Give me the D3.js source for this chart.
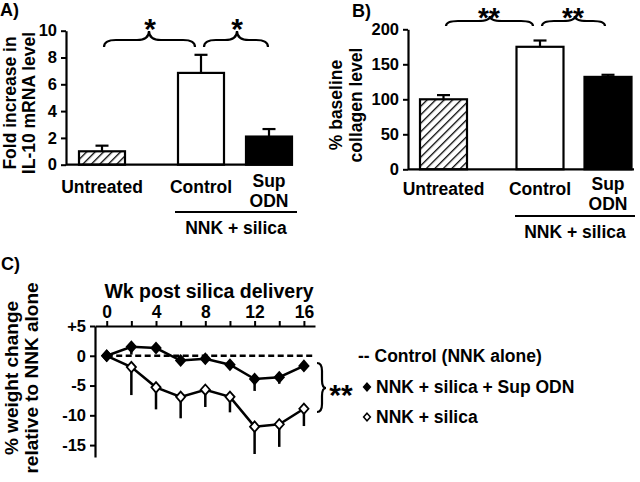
<!DOCTYPE html>
<html><head><meta charset="utf-8">
<script src="https://cdn.jsdelivr.net/npm/d3@7"></script>
<style>
html,body{margin:0;padding:0;background:#fff;}
svg{display:block;font-family:"Liberation Sans",Arial,sans-serif;font-weight:bold;}
</style></head>
<body>
<svg id="c" width="640" height="482"></svg>
<script>
// ---------- DATA ----------
const categories = ["Untreated", "Control", "Sup ODN"];
const il10Values = [1.0, 6.85, 2.1];
const il10Sem = [0.42, 1.35, 0.56];
const il10Ticks = [0, 2, 4, 6, 8, 10];
const collagenValues = [100, 175, 132];
const collagenSem = [6, 9, 3];
const collagenTicks = [0, 50, 100, 150, 200];
const weeks = [0, 2, 4, 6, 8, 10, 12, 14, 16];
const supOdn = [0, 1.5, 1.3, -0.8, -0.5, -1.5, -3.9, -3.6, -1.7];
const supOdnErr = [0, 1.3, 0.3, 0.4, 0.4, 0.4, 2.0, 1.1, 0.4];
const silica = [0, -1.9, -5.3, -6.9, -5.7, -6.9, -11.9, -11.5, -8.9];
const silicaErr = [0, 4.7, 3.7, 3.6, 2.9, 2.6, 4.6, 3.8, 2.9];
const weightTicks = [5, 0, -5, -10, -15];
const weekTicks = [0, 2, 4, 6, 8, 10, 12, 14, 16];
const legendLabels = ["Control (NNK alone)", "NNK + silica + Sup ODN", "NNK + silica"];

const svg = d3.select("#c");
const defs = svg.append("defs");
defs.append("pattern").attr("id", "hatch").attr("patternUnits", "userSpaceOnUse")
  .attr("width", 6).attr("height", 6).attr("patternTransform", "rotate(45)")
  .append("line").attr("x1", 0).attr("y1", 0).attr("x2", 0).attr("y2", 6)
  .attr("stroke", "#000").attr("stroke-width", 2.6);
const fills = ["url(#hatch)", "#fff", "#000"];

function brace(g, x1, x2, xm, yEnd, yMid, yApex) {
  const r = 12;
  const p = `M${x1},${yEnd} Q${x1},${yMid} ${x1 + r},${yMid} L${xm - r},${yMid} Q${xm},${yMid} ${xm},${yApex} Q${xm},${yMid} ${xm + r},${yMid} L${x2 - r},${yMid} Q${x2},${yMid} ${x2},${yEnd}`;
  g.append("path").attr("d", p).attr("fill", "none").attr("stroke", "#000").attr("stroke-width", 2.2);
}
function vbrace(g, x1, xApex, y1, y2, ym) {
  const r = 8, xm = x1 + 5;
  const p = `M${x1},${y1} Q${xm},${y1} ${xm},${y1 + r} L${xm},${ym - r} Q${xm},${ym} ${xApex},${ym} Q${xm},${ym} ${xm},${ym + r} L${xm},${y2 - r} Q${xm},${y2} ${x1},${y2}`;
  g.append("path").attr("d", p).attr("fill", "none").attr("stroke", "#000").attr("stroke-width", 2.2);
}
function stars(g, x, y, s, size) {
  g.append("text").attr("x", x).attr("y", y).attr("text-anchor", "middle")
    .attr("font-size", size || 30).attr("font-weight", "bold").text(s);
}

function barPanel(opt) {
  const g = svg.append("g");
  const y = d3.scaleLinear().domain([0, opt.max]).range([opt.y0, opt.y1]);
  const x = d3.scaleOrdinal().domain(categories).range(opt.centers);
  const bw = opt.bw;
  const eg = g.append("g");
  opt.values.forEach((v, i) => {
    const cx = x(categories[i]);
    eg.append("line").attr("x1", cx).attr("x2", cx).attr("y1", y(v)).attr("y2", y(v + opt.sem[i]))
      .attr("stroke", "#000").attr("stroke-width", 2.2);
    eg.append("line").attr("x1", cx - 6.5).attr("x2", cx + 6.5).attr("y1", y(v + opt.sem[i])).attr("y2", y(v + opt.sem[i]))
      .attr("stroke", "#000").attr("stroke-width", 2.2);
  });
  g.selectAll("rect.bar").data(opt.values).enter().append("rect")
    .attr("x", (d, i) => x(categories[i]) - bw / 2).attr("width", bw)
    .attr("y", d => y(d)).attr("height", d => y(0) - y(d))
    .attr("fill", (d, i) => fills[i]).attr("stroke", "#000").attr("stroke-width", 2.2);
  const ax = g.append("g").attr("transform", `translate(${opt.axX},0)`)
    .call(d3.axisLeft(y).tickValues(opt.ticks).tickSize(5).tickSizeOuter(0).tickPadding(4));
  ax.select(".domain").attr("stroke-width", 2.2);
  ax.selectAll(".tick line").attr("stroke-width", 2);
  ax.selectAll(".tick text").attr("font-size", 16.5).attr("font-family", null).attr("fill", "#000");
  g.append("line").attr("x1", opt.axX).attr("x2", opt.baseEnd).attr("y1", y(0)).attr("y2", y(0))
    .attr("stroke", "#000").attr("stroke-width", 2.2);
  const lg = g.append("g").attr("font-size", 17.5).attr("text-anchor", "middle");
  lg.append("text").attr("x", x("Untreated")).attr("y", opt.labY).text("Untreated");
  lg.append("text").attr("x", x("Control")).attr("y", opt.labY).text("Control");
  const sup = lg.append("text").attr("x", x("Sup ODN")).attr("y", opt.supY);
  sup.append("tspan").attr("x", x("Sup ODN")).text("Sup");
  sup.append("tspan").attr("x", x("Sup ODN")).attr("dy", 20).text("ODN");
  g.append("line").attr("x1", opt.ulX1).attr("x2", opt.ulX2).attr("y1", opt.ulY).attr("y2", opt.ulY)
    .attr("stroke", "#000").attr("stroke-width", 2.2);
  lg.append("text").attr("x", (opt.ulX1 + opt.ulX2) / 2).attr("y", opt.ulY + 22).text("NNK + silica");
  const t = g.append("text").attr("font-size", 17.5).attr("text-anchor", "middle")
    .attr("transform", `translate(${opt.titleX},${opt.titleY}) rotate(-90)`);
  t.append("tspan").attr("x", 0).attr("y", 0).text(opt.title[0]);
  t.append("tspan").attr("x", 0).attr("y", 19.5).text(opt.title[1]);
  g.append("text").attr("x", opt.letterX).attr("y", opt.letterY).attr("font-size", 18).text(opt.letter);
  return g;
}

const gA = barPanel({
  max: 10, y0: 164.7, y1: 30.7, centers: [102, 201, 269], bw: 46, values: il10Values, sem: il10Sem,
  ticks: il10Ticks, axX: 66, baseEnd: 293, labY: 193, supY: 187, ulX1: 175, ulX2: 297, ulY: 212,
  title: ["Fold increase in", "IL-10 mRNA level"], titleX: 15.5, titleY: 103, letter: "A)", letterX: 0, letterY: 16
});
brace(gA, 104, 195, 149, 47, 40, 31);
brace(gA, 204, 268, 237, 47, 40, 31);
stars(gA, 150, 39, "*");
stars(gA, 237, 39, "*");

const gB = barPanel({
  max: 200, y0: 169.3, y1: 29.3, centers: [443.5, 540, 608], bw: 47, values: collagenValues, sem: collagenSem,
  ticks: collagenTicks, axX: 408, baseEnd: 634, labY: 195, supY: 190, ulX1: 515, ulX2: 635, ulY: 216,
  title: ["% baseline", "collagen level"], titleX: 342, titleY: 105, letter: "B)", letterX: 352, letterY: 17
});
brace(gB, 446, 533, 490, 26, 21, 16);
brace(gB, 542, 605, 575, 26, 21, 16);
stars(gB, 489, 26.5, "**", 28);
stars(gB, 573, 26.5, "**", 28);

// ---------- Panel C ----------
const gC = svg.append("g");
const xC = d3.scaleLinear().domain([-0.95, 16.9]).range([95, 315]);
const yC = d3.scaleLinear().domain([-17, 5]).range([457, 326]);
const xa = gC.append("g").attr("transform", `translate(0,${yC(5)})`)
  .call(d3.axisTop(xC).tickValues(weekTicks).tickSize(5).tickSizeOuter(0).tickPadding(3)
    .tickFormat(d => d % 4 === 0 ? d : ""));
xa.select(".domain").attr("stroke-width", 2.2);
xa.selectAll(".tick line").attr("stroke-width", 2);
xa.selectAll(".tick text").attr("font-size", 17.5).attr("font-family", null).attr("fill", "#000");
const ya = gC.append("g").attr("transform", `translate(${xC(-0.95)},0)`)
  .call(d3.axisLeft(yC).tickValues(weightTicks).tickSize(5).tickSizeOuter(0).tickPadding(4)
    .tickFormat(d => d > 0 ? "+" + d : d));
ya.select(".domain").attr("stroke-width", 2.2);
ya.selectAll(".tick line").attr("stroke-width", 2);
ya.selectAll(".tick text").attr("font-size", 16.5).attr("font-family", null).attr("fill", "#000");
gC.append("text").attr("x", 209).attr("y", 298).attr("font-size", 19.5).attr("text-anchor", "middle")
  .text("Wk post silica delivery");
const tc = gC.append("text").attr("font-size", 19).attr("text-anchor", "middle")
  .attr("transform", `translate(18,378) rotate(-90)`);
tc.append("tspan").attr("x", 0).attr("y", 0).text("% weight change");
tc.append("tspan").attr("x", 0).attr("y", 20).text("relative to NNK alone");
gC.append("text").attr("x", 1).attr("y", 270).attr("font-size", 18).text("C)");

gC.append("line").attr("x1", xC(0)).attr("x2", 315).attr("y1", yC(0)).attr("y2", yC(0))
  .attr("stroke", "#000").attr("stroke-width", 2.5).attr("stroke-dasharray", "6,3.5");

const line = d3.line().x((d, i) => xC(weeks[i])).y(d => yC(d));
const diamond = "M0,-5.2L4.6,0L0,5.2L-4.6,0Z";
function series(vals, errs, fill) {
  const s = gC.append("g");
  vals.forEach((v, i) => {
    if (errs[i] > 0) s.append("line").attr("x1", xC(weeks[i])).attr("x2", xC(weeks[i]))
      .attr("y1", yC(v)).attr("y2", yC(v - errs[i])).attr("stroke", "#000").attr("stroke-width", 2.5);
  });
  s.append("path").attr("d", line(vals)).attr("fill", "none").attr("stroke", "#000").attr("stroke-width", 2.5);
  s.selectAll("path.m").data(vals).enter().append("path").attr("class", "m")
    .attr("d", diamond).attr("transform", (d, i) => `translate(${xC(weeks[i])},${yC(d)})`)
    .attr("fill", fill).attr("stroke", "#000").attr("stroke-width", 1.8);
}
series(silica, silicaErr, "#fff");
series(supOdn, supOdnErr, "#000");

vbrace(gC, 317, 326, 363, 412, 388);
stars(gC, 341, 405, "**");

const lgC = gC.append("g").attr("font-size", 17.5);
lgC.append("text").attr("x", 358).attr("y", 362).text("-- " + legendLabels[0]);
lgC.append("path").attr("d", "M0,-3.8L3.4,0L0,3.8L-3.4,0Z").attr("transform", "translate(367,387)")
  .attr("fill", "#000").attr("stroke", "#000").attr("stroke-width", 1.5);
lgC.append("text").attr("x", 376).attr("y", 393).text(legendLabels[1]);
lgC.append("path").attr("d", "M0,-3.8L3.4,0L0,3.8L-3.4,0Z").attr("transform", "translate(367,417)")
  .attr("fill", "#fff").attr("stroke", "#000").attr("stroke-width", 1.5);
lgC.append("text").attr("x", 376).attr("y", 423).text(legendLabels[2]);
</script>
</body></html>
